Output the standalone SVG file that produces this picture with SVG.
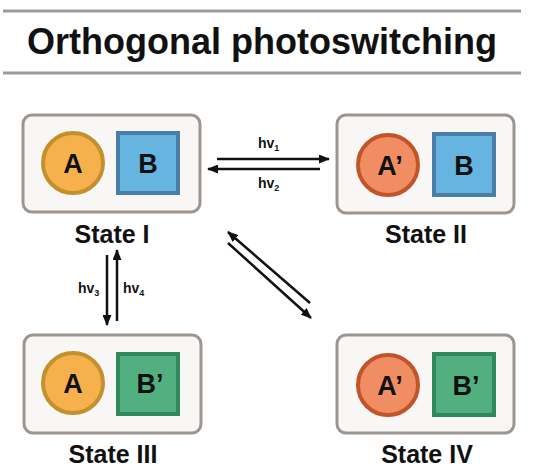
<svg xmlns="http://www.w3.org/2000/svg" width="537" height="468" viewBox="0 0 537 468">
<defs>
<marker id="ah" viewBox="0 0 11 9" refX="10" refY="4.5" markerWidth="11" markerHeight="9" markerUnits="userSpaceOnUse" orient="auto">
<path d="M0,0 L11,4.5 L0,9 Z" fill="#111"/>
</marker>
</defs>
<style>
.t{font-family:"Liberation Sans",Arial,sans-serif;font-weight:bold;fill:#111}
.box{fill:#f8f7f6;stroke:#9c9590;stroke-width:3}
.ca{fill:#f6b14c;stroke:#c3902e;stroke-width:4}
.cap{fill:#f08d62;stroke:#c2542a;stroke-width:4}
.sb{fill:#66b4e0;stroke:#4a7ea6;stroke-width:4}
.sbp{fill:#52b080;stroke:#2f8a5b;stroke-width:4}
.sep{stroke:#a09b97;stroke-width:3}
.arr{stroke:#111;stroke-width:2.5;fill:none;marker-end:url(#ah)}
.lt{font-size:27px;text-anchor:middle}
.st{font-size:25px;text-anchor:middle}
.hv{font-size:14px}
</style>
<line class="sep" x1="3" y1="11" x2="521" y2="11"/>
<line class="sep" x1="3" y1="73" x2="521" y2="73"/>
<text class="t" x="262" y="54" font-size="36" text-anchor="middle">Orthogonal photoswitching</text>

<g id="state1">
<rect class="box" x="23" y="115" width="177" height="97" rx="9"/>
<circle class="ca" cx="73" cy="163" r="30"/>
<rect class="sb" x="118" y="133" width="60" height="60"/>
<text class="t lt" x="73" y="173">A</text>
<text class="t lt" x="148" y="173">B</text>
<text class="t st" x="112" y="243">State I</text>
</g>
<g id="state2">
<rect class="box" x="337" y="115" width="177" height="98" rx="9"/>
<circle class="cap" cx="388" cy="165" r="30"/>
<rect class="sb" x="434" y="134" width="60" height="61"/>
<text class="t lt" x="390" y="175">A’</text>
<text class="t lt" x="464" y="175">B</text>
<text class="t st" x="426" y="243">State II</text>
</g>
<g id="state3">
<rect class="box" x="24" y="335" width="177" height="98" rx="9"/>
<circle class="ca" cx="73" cy="383" r="30"/>
<rect class="sbp" x="118" y="354" width="60" height="60"/>
<text class="t lt" x="73" y="393">A</text>
<text class="t lt" x="150" y="393">B’</text>
<text class="t st" x="113" y="463">State III</text>
</g>
<g id="state4">
<rect class="box" x="337" y="335" width="177" height="98" rx="9"/>
<circle class="cap" cx="388" cy="385" r="30"/>
<rect class="sbp" x="434" y="354" width="60" height="61"/>
<text class="t lt" x="390" y="395">A’</text>
<text class="t lt" x="466" y="395">B’</text>
<text class="t st" x="427" y="463">State IV</text>
</g>

<g id="connectors">
<line class="arr" x1="217" y1="159" x2="329" y2="159"/>
<line class="arr" x1="320" y1="169" x2="208" y2="169"/>
<line class="arr" x1="107" y1="255" x2="107" y2="325"/>
<line class="arr" x1="117" y1="321" x2="117" y2="250"/>
<line class="arr" x1="310" y1="303" x2="228" y2="232"/>
<line class="arr" x1="228" y1="243" x2="311" y2="318"/>
</g>
<g id="labels">
<text class="t hv" x="258" y="148">hv<tspan font-size="9" dy="3">1</tspan></text>
<text class="t hv" x="258" y="188">hv<tspan font-size="9" dy="3">2</tspan></text>
<text class="t hv" x="78" y="293">hv<tspan font-size="9" dy="3">3</tspan></text>
<text class="t hv" x="123" y="293">hv<tspan font-size="9" dy="3">4</tspan></text>
</g>
</svg>
